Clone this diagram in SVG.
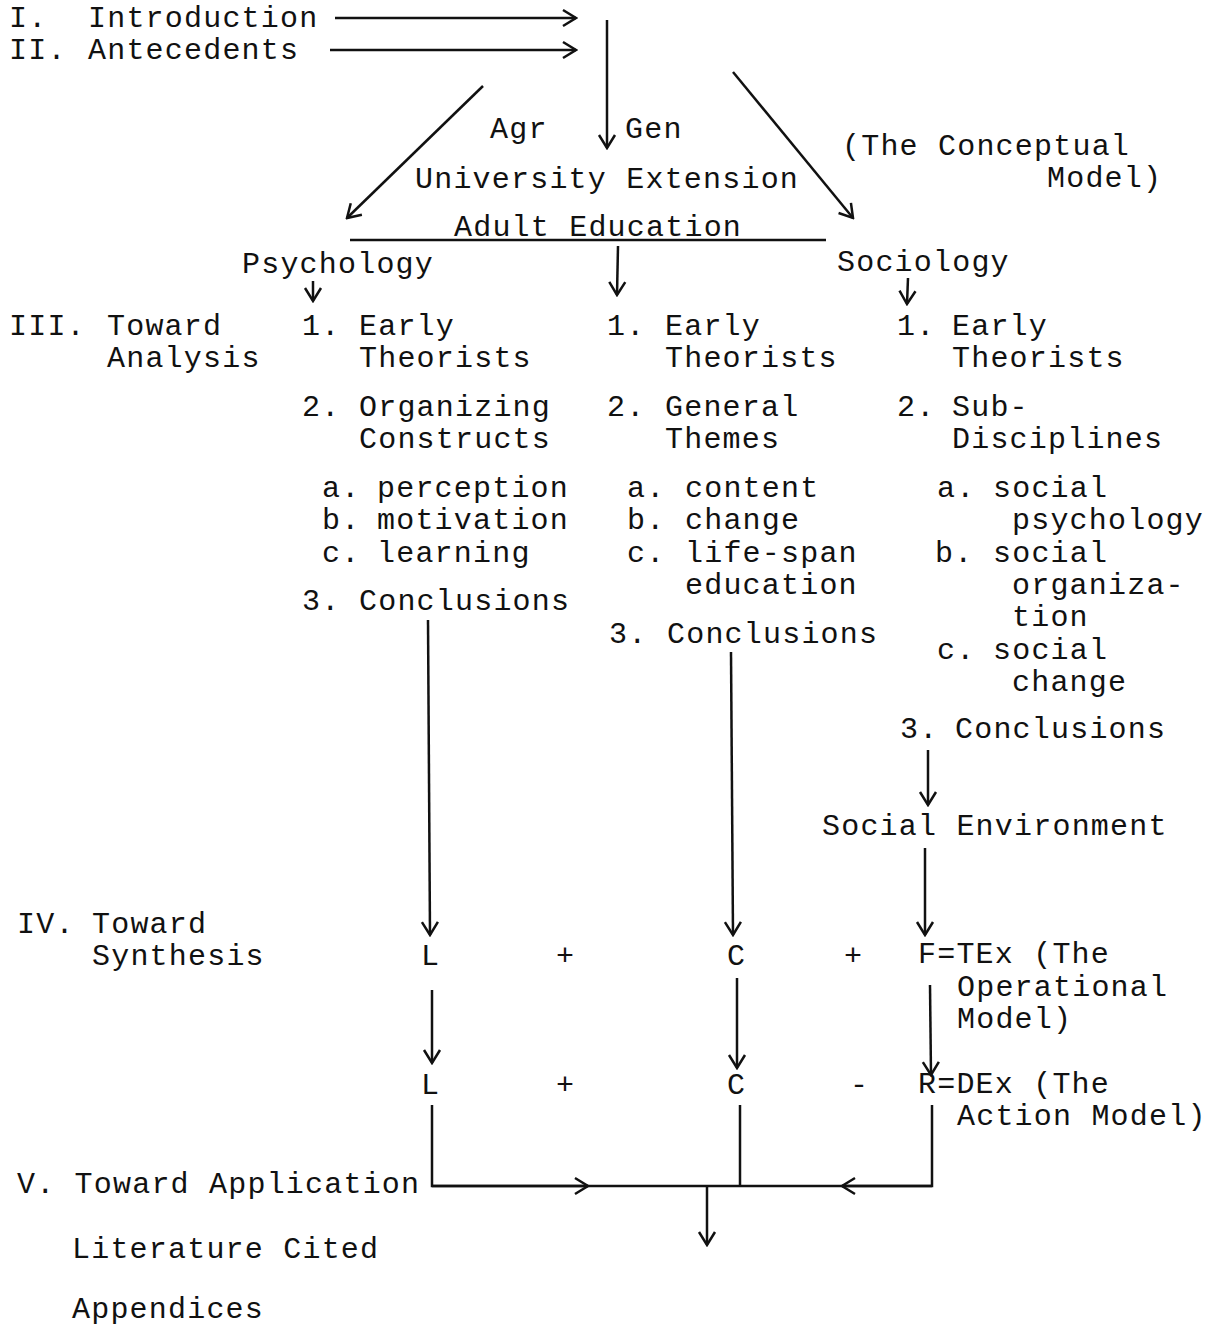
<svg xmlns="http://www.w3.org/2000/svg" width="1212" height="1329" viewBox="0 0 1212 1329">
<style>
text{font-family:"Liberation Mono","Courier New",monospace;font-size:30px;letter-spacing:1.2px;fill:#111}
.c line,.c path,.c polyline{stroke:#111;stroke-width:2.5;fill:none}
</style>
<defs>
<marker id="ah" viewBox="-16 -10 18 20" refX="0" refY="0" markerWidth="18" markerHeight="20" markerUnits="userSpaceOnUse" orient="auto">
<path d="M-13,-8 L0,0 L-13,8" fill="none" stroke="#111" stroke-width="2.5"/>
</marker>
</defs>
<rect width="1212" height="1329" fill="#fff"/>
<g class="c" id="connectors">
<line x1="335" y1="18" x2="576" y2="18" marker-end="url(#ah)"/>
<line x1="330" y1="50" x2="576" y2="50" marker-end="url(#ah)"/>
<line x1="607" y1="20" x2="607" y2="148" marker-end="url(#ah)"/>
<line x1="483" y1="86" x2="347" y2="218" marker-end="url(#ah)"/>
<line x1="733" y1="72" x2="853" y2="218" marker-end="url(#ah)"/>
<line x1="350" y1="240" x2="826" y2="240"/>
<line x1="313" y1="281" x2="313" y2="301" marker-end="url(#ah)"/>
<line x1="618" y1="246" x2="617" y2="295" marker-end="url(#ah)"/>
<line x1="908" y1="278" x2="907" y2="304" marker-end="url(#ah)"/>
<line x1="428" y1="620" x2="430" y2="935" marker-end="url(#ah)"/>
<line x1="731" y1="652" x2="733" y2="935" marker-end="url(#ah)"/>
<line x1="928" y1="750" x2="928" y2="805" marker-end="url(#ah)"/>
<line x1="925" y1="848" x2="925" y2="935" marker-end="url(#ah)"/>
<line x1="432" y1="990" x2="432" y2="1063" marker-end="url(#ah)"/>
<line x1="737" y1="978" x2="737" y2="1068" marker-end="url(#ah)"/>
<line x1="930" y1="985" x2="931" y2="1075" marker-end="url(#ah)"/>
<polyline points="432,1105 432,1186 932,1186 932,1105"/>
<line x1="740" y1="1105" x2="740" y2="1186"/>
<line x1="432" y1="1186" x2="588" y2="1186" marker-end="url(#ah)"/>
<line x1="932" y1="1186" x2="842" y2="1186" marker-end="url(#ah)"/>
<line x1="707" y1="1186" x2="707" y2="1245" marker-end="url(#ah)"/>
</g>
<g id="n-intro"><text x="9" y="27">I.</text><text x="88" y="27">Introduction</text></g>
<g id="n-antecedents"><text x="9" y="59">II.</text><text x="88" y="59">Antecedents</text></g>
<g id="n-agr"><text x="490" y="138">Agr</text></g>
<g id="n-gen"><text x="625" y="138">Gen</text></g>
<g id="n-univ"><text x="415" y="188">University Extension</text></g>
<g id="n-adult"><text x="454" y="236">Adult Education</text></g>
<g id="n-conceptual"><text x="842" y="155">(The Conceptual</text><text x="1047" y="187">Model)</text></g>
<g id="n-psych"><text x="242" y="273">Psychology</text></g>
<g id="n-socio"><text x="837" y="271">Sociology</text></g>
<g id="n-iii"><text x="9" y="335">III.</text><text x="107" y="335">Toward</text><text x="107" y="367">Analysis</text></g>
<g id="n-col1">
<text x="302" y="335">1.</text><text x="359" y="335">Early</text><text x="359" y="367">Theorists</text>
<text x="302" y="416">2.</text><text x="359" y="416">Organizing</text><text x="359" y="448">Constructs</text>
<text x="322" y="497">a.</text><text x="377" y="497">perception</text>
<text x="322" y="529">b.</text><text x="377" y="529">motivation</text>
<text x="322" y="562">c.</text><text x="377" y="562">learning</text>
<text x="302" y="610">3.</text><text x="359" y="610">Conclusions</text>
</g>
<g id="n-col2">
<text x="607" y="335">1.</text><text x="665" y="335">Early</text><text x="665" y="367">Theorists</text>
<text x="607" y="416">2.</text><text x="665" y="416">General</text><text x="665" y="448">Themes</text>
<text x="627" y="497">a.</text><text x="685" y="497">content</text>
<text x="627" y="529">b.</text><text x="685" y="529">change</text>
<text x="627" y="562">c.</text><text x="685" y="562">life-span</text>
<text x="685" y="594">education</text>
<text x="609" y="643">3.</text><text x="667" y="643">Conclusions</text>
</g>
<g id="n-col3">
<text x="897" y="335">1.</text><text x="952" y="335">Early</text><text x="952" y="367">Theorists</text>
<text x="897" y="416">2.</text><text x="952" y="416">Sub-</text><text x="952" y="448">Disciplines</text>
<text x="937" y="497">a.</text><text x="993" y="497">social</text><text x="1012" y="529">psychology</text>
<text x="935" y="562">b.</text><text x="993" y="562">social</text><text x="1012" y="594">organiza-</text><text x="1012" y="626">tion</text>
<text x="937" y="659">c.</text><text x="993" y="659">social</text><text x="1012" y="691">change</text>
<text x="900" y="738">3.</text><text x="955" y="738">Conclusions</text>
</g>
<g id="n-socenv"><text x="822" y="835">Social Environment</text></g>
<g id="n-iv"><text x="17" y="933">IV.</text><text x="92" y="933">Toward</text><text x="92" y="965">Synthesis</text></g>
<g id="n-row1">
<text x="421" y="965">L</text><text x="556" y="965">+</text><text x="727" y="965">C</text><text x="844" y="965">+</text>
<text x="918" y="963">F=TEx (The</text><text x="957" y="996">Operational</text><text x="957" y="1028">Model)</text>
</g>
<g id="n-row2">
<text x="421" y="1094">L</text><text x="556" y="1094">+</text><text x="727" y="1094">C</text><text x="850" y="1094">-</text>
<text x="918" y="1093">R=DEx (The</text><text x="957" y="1125">Action Model)</text>
</g>
<g id="n-v"><text x="17" y="1193">V. Toward Application</text></g>
<g id="n-lit"><text x="72" y="1258">Literature Cited</text></g>
<g id="n-app"><text x="72" y="1318">Appendices</text></g>
</svg>
